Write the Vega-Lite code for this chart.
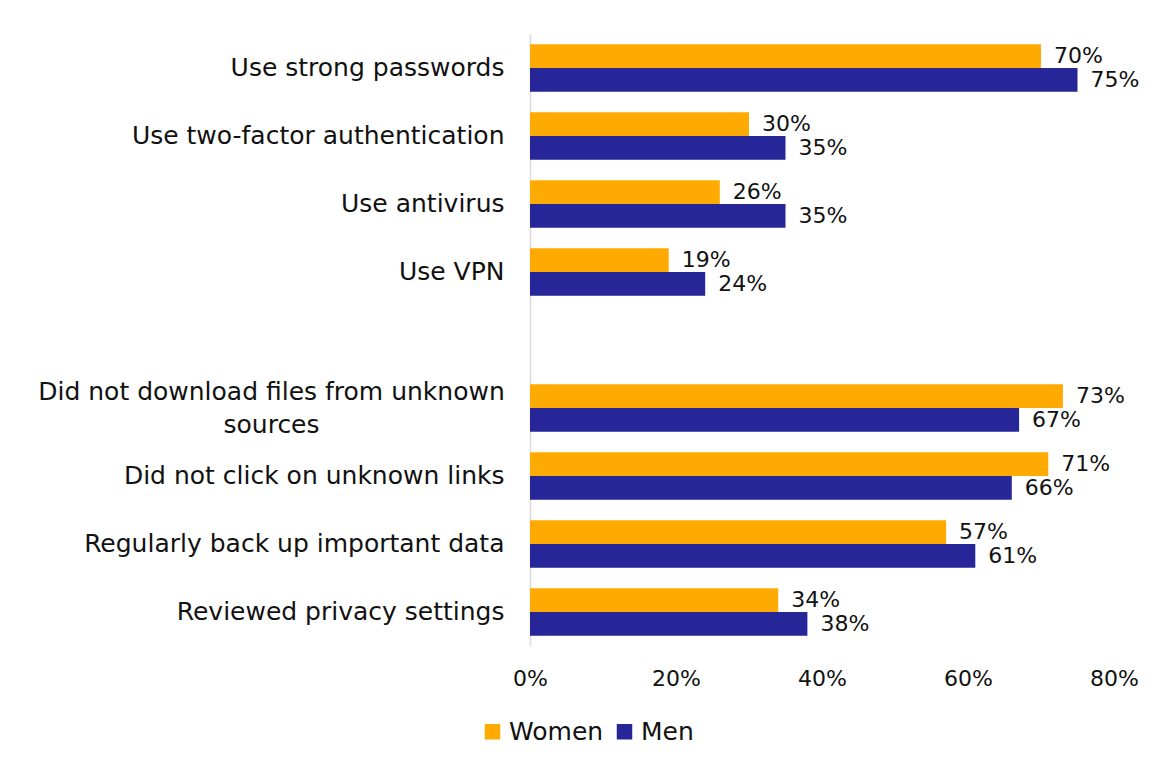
{
  "$schema": "https://vega.github.io/schema/vega-lite/v6.json",
  "autosize": {"type": "none"},
  "padding": {"left": 530, "top": 34, "right": 51, "bottom": 123},
  "width": 584,
  "height": 612,
  "background": "white",
  "config": {
    "view": {"stroke": null},
    "font": "DejaVu Sans",
    "axis": {"labelFont": "DejaVu Sans", "labelColor": "#111111", "labelFontSize": 22},
    "legend": {"labelFont": "DejaVu Sans", "labelColor": "#111111", "labelFontSize": 25}
  },
  "data": {
    "values": [
      {"item": "Use strong passwords", "group": "Women", "value": 0.70},
      {"item": "Use strong passwords", "group": "Men", "value": 0.75},
      {"item": "Use two-factor authentication", "group": "Women", "value": 0.30},
      {"item": "Use two-factor authentication", "group": "Men", "value": 0.35},
      {"item": "Use antivirus", "group": "Women", "value": 0.26},
      {"item": "Use antivirus", "group": "Men", "value": 0.35},
      {"item": "Use VPN", "group": "Women", "value": 0.19},
      {"item": "Use VPN", "group": "Men", "value": 0.24},
      {"item": "Did not download files from unknown sources", "group": "Women", "value": 0.73},
      {"item": "Did not download files from unknown sources", "group": "Men", "value": 0.67},
      {"item": "Did not click on unknown links", "group": "Women", "value": 0.71},
      {"item": "Did not click on unknown links", "group": "Men", "value": 0.66},
      {"item": "Regularly back up important data", "group": "Women", "value": 0.57},
      {"item": "Regularly back up important data", "group": "Men", "value": 0.61},
      {"item": "Reviewed privacy settings ", "group": "Women", "value": 0.34},
      {"item": "Reviewed privacy settings ", "group": "Men", "value": 0.38}
    ]
  },
  "encoding": {
    "y": {
      "field": "item",
      "type": "nominal",
      "title": null,
      "scale": {
        "domain": ["Use strong passwords", "Use two-factor authentication", "Use antivirus", "Use VPN", " ", "Did not download files from unknown sources", "Did not click on unknown links", "Regularly back up important data", "Reviewed privacy settings "],
        "paddingInner": 0.3,
        "paddingOuter": 0.15
      },
      "axis": {
        "ticks": false,
        "domainColor": "#d9d9d9",
        "domainWidth": 1.5,
        "labelPadding": {"condition": {"test": "datum.label == 'Did not download files from unknown sources'", "value": 259}, "value": 26},
        "labelAlign": {"condition": {"test": "datum.label == 'Did not download files from unknown sources'", "value": "center"}, "value": "right"},
        "labelFontSize": 25,
        "labelLimit": 520,
        "labelLineHeight": 33,
        "labelOffset": {"condition": {"test": "datum.label == 'Did not download files from unknown sources'", "value": -16}, "value": 0},
        "labelExpr": "datum.label == 'Did not download files from unknown sources' ? ['Did not download files from unknown', 'sources'] : datum.label"
      }
    },
    "yOffset": {"field": "group", "type": "nominal", "sort": ["Women", "Men"], "scale": {"paddingInner": 0, "paddingOuter": 0}},
    "x": {
      "field": "value",
      "type": "quantitative",
      "title": null,
      "scale": {"domain": [0, 0.8], "nice": false},
      "axis": {"values": [0, 0.2, 0.4, 0.6, 0.8], "format": ".0%", "grid": false, "domain": false, "ticks": false, "labelPadding": 22, "labelFlush": false}
    },
    "color": {
      "field": "group",
      "type": "nominal",
      "title": null,
      "scale": {"domain": ["Women", "Men"], "range": ["#FFAA00", "#262698"]},
      "legend": {
        "orient": "none",
        "direction": "horizontal",
        "legendX": -50,
        "legendY": 685,
        "symbolType": "square",
        "symbolSize": 240,
        "symbolStrokeWidth": 0,
        "columnPadding": 8,
        "labelOffset": 4
      }
    }
  },
  "layer": [
    {"mark": {"type": "bar", "opacity": 1}},
    {
      "mark": {"type": "text", "align": "left", "baseline": "middle", "dx": 13, "fontSize": 22, "color": "#111111"},
      "encoding": {
        "text": {"field": "value", "type": "quantitative", "format": ".0%"},
        "color": {"value": "#111111"}
      }
    }
  ]
}
